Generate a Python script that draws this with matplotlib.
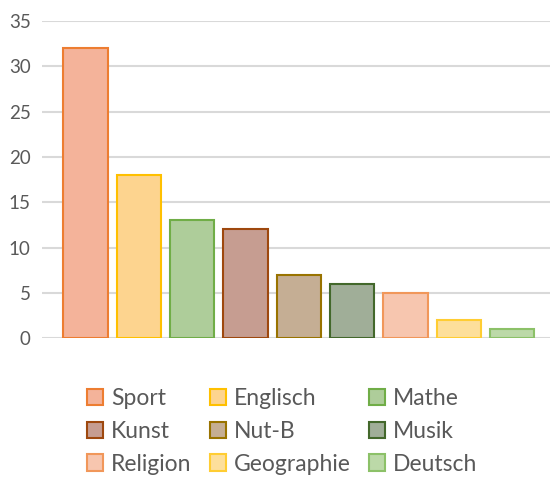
import matplotlib.pyplot as plt
from matplotlib.patches import Patch

# Fächer und Anzahl
faecher = ['Sport', 'Englisch', 'Mathe', 'Kunst', 'Nut-B', 'Musik',
           'Religion', 'Geographie', 'Deutsch']
werte = [32, 18, 13, 12, 7, 6, 5, 2, 1]

fuell = ['#F4B39A', '#FDD48F', '#AECD9A', '#C69D91', '#C5AE94', '#A0AE98',
         '#F7C6AF', '#FDDF9B', '#BCD9A8']
rand = ['#ED7D31', '#FFC000', '#70AD47', '#9E480E', '#997300', '#43682B',
        '#F1975A', '#FFCD33', '#8CC168']

plt.rcParams['font.family'] = ['Lato', 'DejaVu Sans']

fig = plt.figure(figsize=(5.5, 4.79), dpi=100)
ax = fig.add_axes([0.076, 0.294, 0.924, 0.662])

x = list(range(len(faecher)))
ax.bar(x, werte, width=0.83, color=fuell, edgecolor=rand, linewidth=1.5, zorder=3)

ax.set_ylim(0, 35)
ax.set_xlim(-0.82, 8.71)
ax.set_yticks(range(0, 36, 5))
ax.set_xticks([])
ax.grid(axis='y', color='#D9D9D9', linewidth=1.5, zorder=0)
for s in ax.spines.values():
    s.set_visible(False)
ax.tick_params(axis='y', length=0, labelsize=13.5, labelcolor='#595959', pad=8)

handles = [Patch(facecolor=f, edgecolor=r, linewidth=1.5) for f, r in zip(fuell, rand)]
# Legende zeilenweise (3 Spalten)
order = [0, 3, 6, 1, 4, 7, 2, 5, 8]
fig.legend([handles[i] for i in order], [faecher[i] for i in order],
           loc='center', bbox_to_anchor=(0.513, 0.1), ncol=3, frameon=False,
           fontsize=16.5, labelcolor='#595959', handlelength=0.7, handleheight=0.7,
           handletextpad=0.35, columnspacing=0.8, labelspacing=0.52,
           borderpad=0)

fig.savefig('out.png', dpi=100)
